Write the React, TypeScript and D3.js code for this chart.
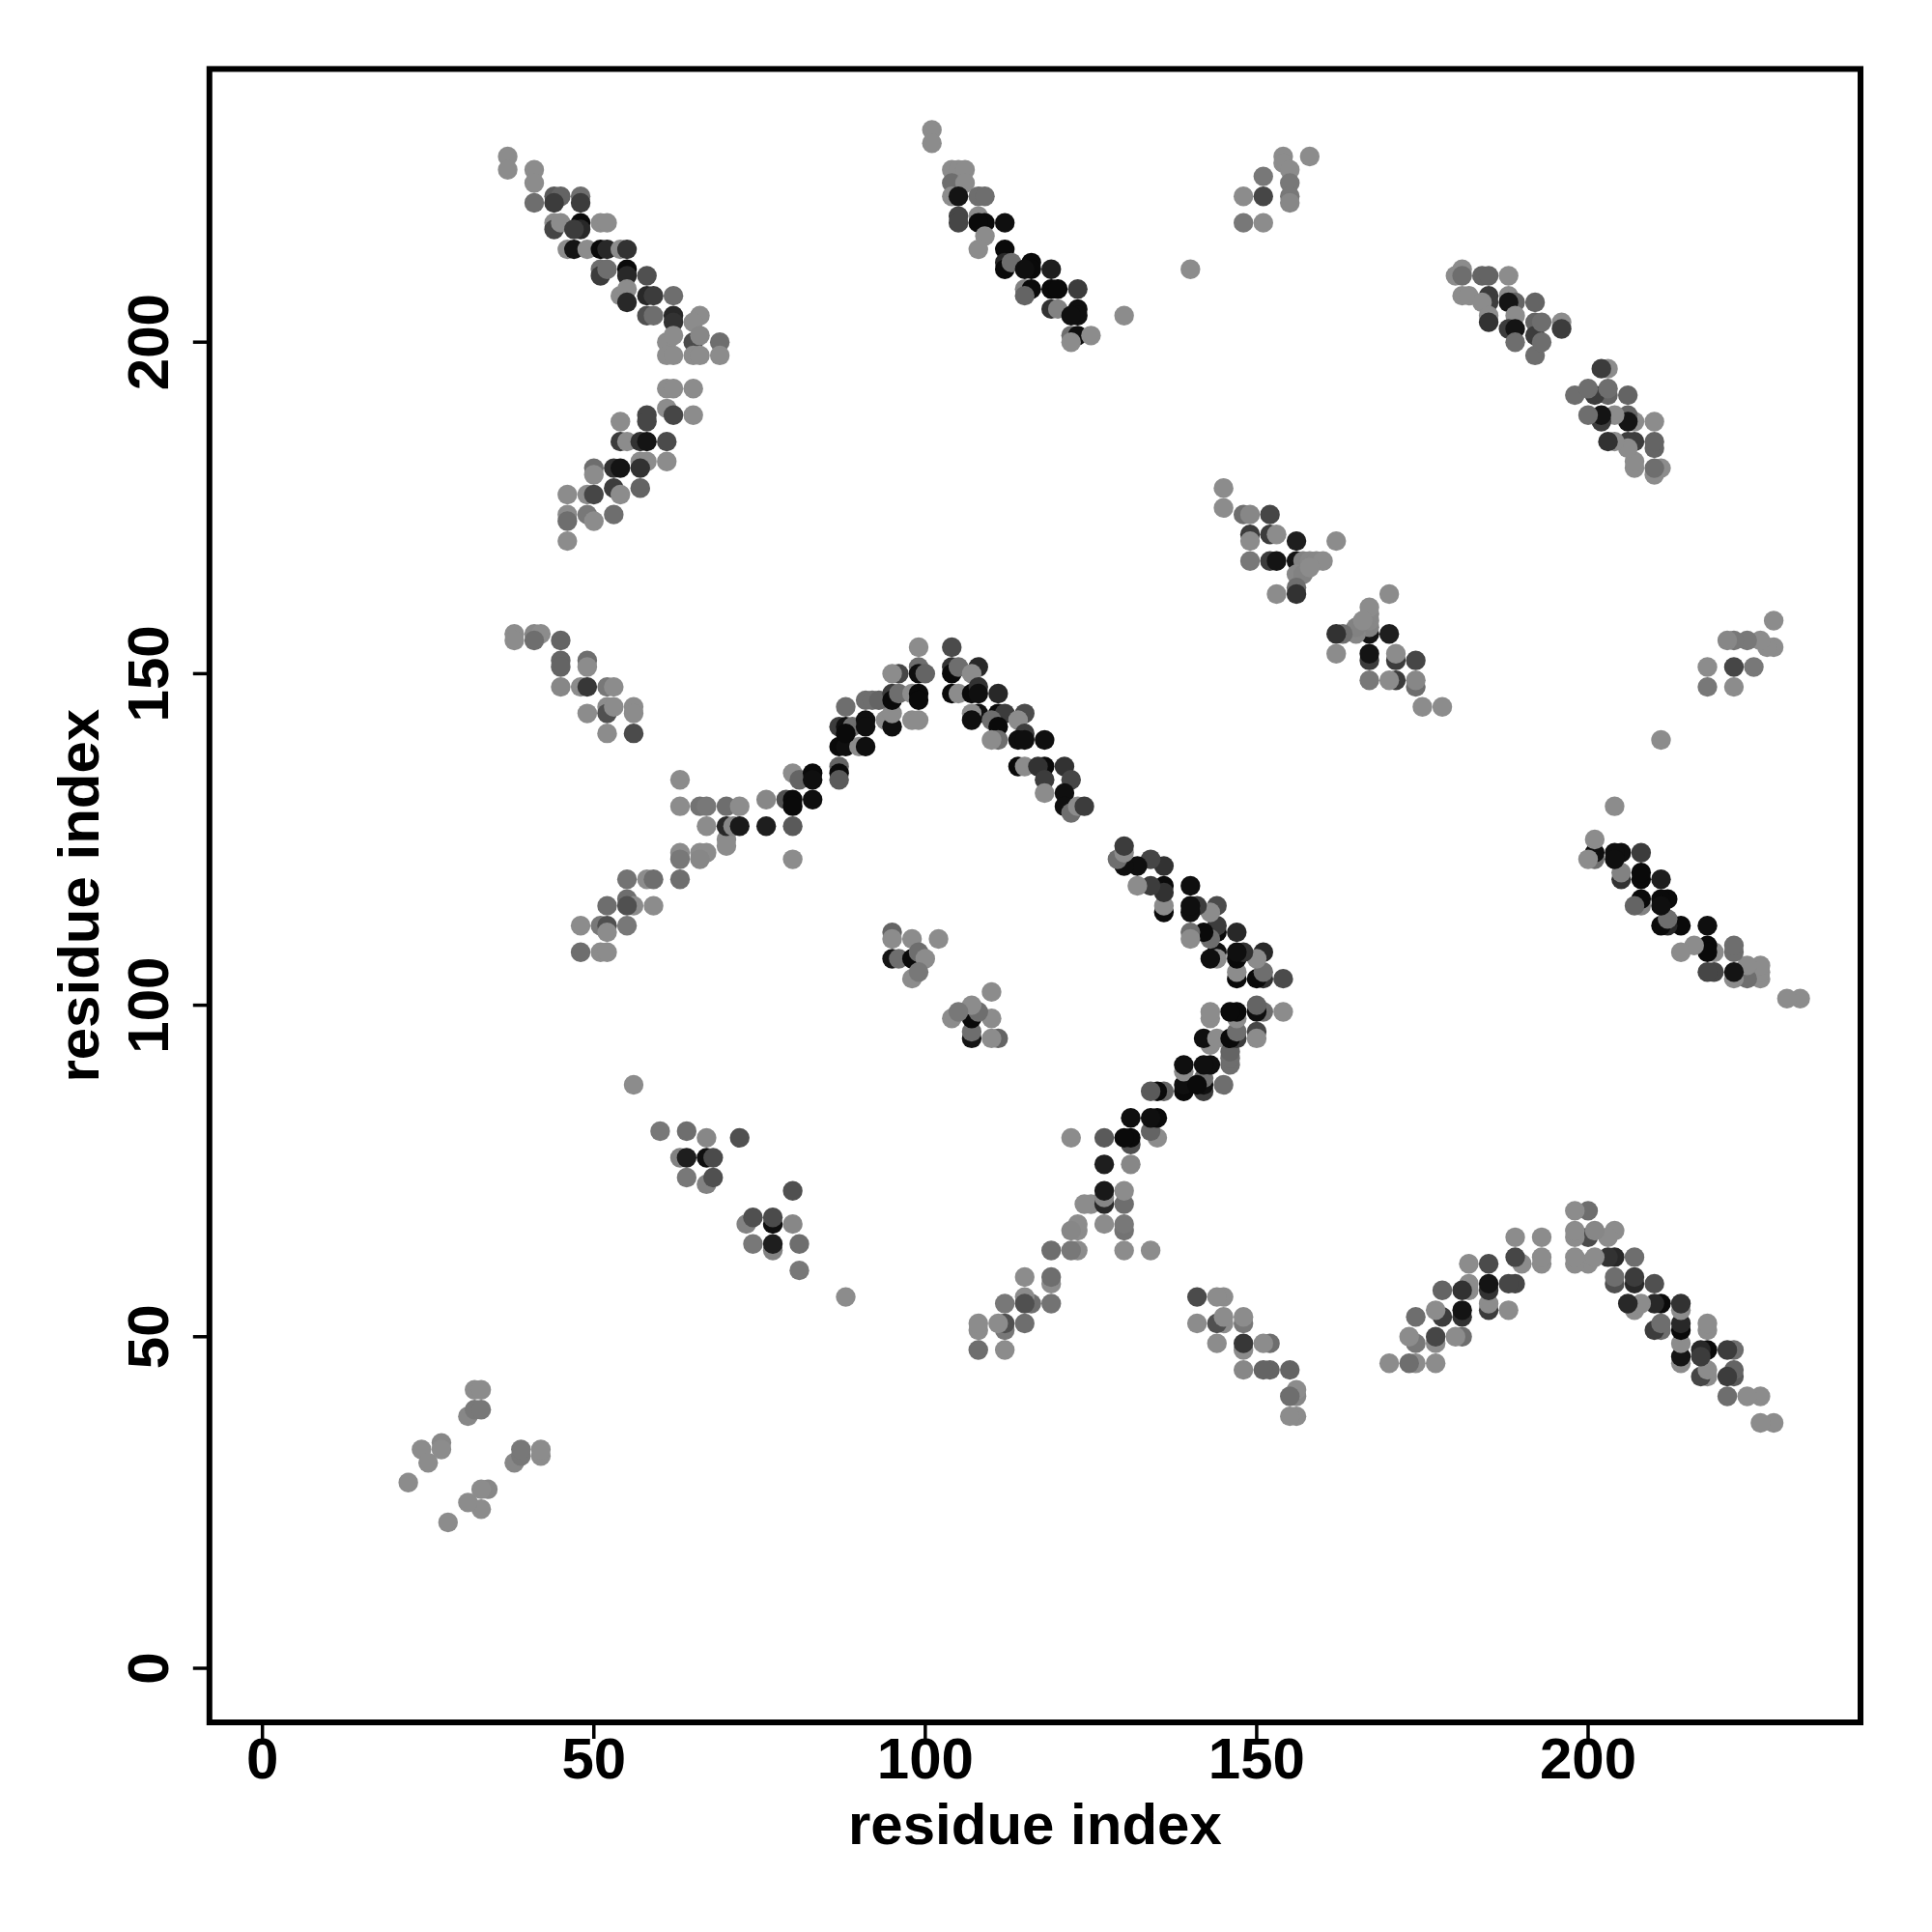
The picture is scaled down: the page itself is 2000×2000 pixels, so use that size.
import React from "react";
import * as d3 from "d3";

// Contacts [i, j, grey level] with j > i; the map is symmetric so each is drawn twice.
const smallHelix: [number, number, number][] = [
  [22,28,140],[24,33,140],[25,31,140],[27,34,135],[27,33,140],[31,38,135],[32,39,120],[33,39,120],[32,42,140],[33,42,140],
];
const hairpin60: [number, number, number][] = [
  [56,88,140],[60,81,120],[64,81,110],[67,80,135],[72,80,80],[63,77,130],[64,77,30],[67,77,15],[68,77,75],[64,74,120],[67,73,130],[68,74,80],
];
const block40x150: [number, number, number][] = [
  [38,156,140],[38,155,140],[41,156,135],[42,156,140],[41,155,110],[45,155,100],[45,152,100],[45,151,100],[49,152,110],[49,151,140],
  [45,148,135],[48,148,140],[49,148,55],[52,148,120],[53,148,140],[49,144,140],[52,145,140],[52,144,80],[53,145,140],[56,145,140],
  [56,144,140],[52,141,140],[56,141,75],
];
const lambdaUp: [number, number, number][] = [
  [48,108,110],[51,108,140],[52,108,140],[48,112,140],[51,112,120],[52,112,80],[52,111,140],[55,112,120],[52,115,110],[55,116,110],
  [56,115,140],[55,115,80],[59,115,140],[55,119,115],[58,119,140],[59,119,110],[63,119,110],[63,123,140],[63,122,120],[66,123,140],
  [67,123,140],[66,122,135],[70,125,140],[70,124,140],[63,130,140],[66,130,115],[67,130,120],[70,130,110],[72,130,140],[67,127,140],
  [70,127,40],[71,127,135],[72,127,25],[76,131,135],[76,127,30],[80,127,90],[80,122,140],[63,134,140],[79,131,80],[80,131,10],
  [80,130,10],[83,131,15],[80,135,140],[81,134,100],[83,135,10],[83,134,15],[87,136,100],[87,135,10],[87,134,90],
  [87,139,10],[88,139,15],[90,139,140],[91,139,15],[87,142,60],[88,142,15],[89,142,110],[88,141,10],[91,143,15],[91,142,15],
  [94,143,140],[95,142,15],[95,144,140],[98,143,140],[99,143,140],[88,145,110],[91,146,110],[92,146,110],[93,146,100],
  [95,147,60],[95,146,10],[96,147,110],[98,147,140],[99,147,10],[99,146,10],[96,150,70],[95,150,140],[99,151,110],[99,150,15],
  [100,150,100],[99,154,140],
];
const lambdaDown: [number, number, number][] = [
  [104,154,75],[104,151,50],[104,150,10],[105,151,110],[108,151,40],[107,150,140],[104,147,10],[105,147,140],[107,147,10],[108,148,50],
  [108,147,15],[111,147,40],[108,144,15],[107,144,140],[107,143,15],[111,144,10],[112,144,60],[110,143,110],[115,144,75],[114,143,140],
  [111,142,10],[111,140,110],[110,140,140],[115,141,60],[114,140,15],[115,140,15],[118,140,15],[114,136,10],[115,136,140],[118,136,10],
  [117,136,50],[118,134,60],[118,132,140],[121,136,50],[122,134,70],[121,132,15],[121,130,15],[122,129,110],[123,130,140],[124,130,60],
];
const nearDiag100: [number, number, number][] = [
  [95,111,100],[95,110,140],[98,110,140],[102,110,140],[95,107,20],[96,107,110],[98,107,10],[99,108,110],[100,107,140],[98,104,140],[99,105,120],
];
const block150x170: [number, number, number][] = [
  [145,178,140],[145,175,140],[148,174,110],[149,174,135],[152,174,70],[149,171,60],[149,170,140],[152,171,60],[153,171,140],[156,170,30],
  [162,170,140],[149,167,120],[152,167,60],[153,167,20],[156,167,20],[157,167,130],[158,167,135],[159,167,135],[160,167,140],[156,165,135],
  [157,165,130],[158,166,140],[156,163,110],[156,162,50],[153,162,140],
];
const block190x205: [number, number, number][] = [
  [180,210,140],[181,211,140],[181,210,110],[184,210,100],[185,210,100],[188,210,140],[181,207,140],[182,207,140],[185,207,60],[185,206,60],
  [184,206,140],[188,207,140],[189,206,100],[188,206,20],[192,206,100],[185,204,140],[185,203,50],[189,204,140],[188,202,60],[189,202,20],
  [192,203,100],[192,201,60],[193,203,110],[196,203,140],[196,202,60],[189,200,110],[192,198,110],[193,200,110],
];
const block110x210: [number, number, number][] = [
  [101,232,140],[101,230,140],[104,226,140],[105,226,140],[106,226,140],[104,224,110],[106,224,140],[104,222,140],[105,222,20],[108,222,110],
  [109,222,110],[105,219,70],[105,218,70],[108,219,140],[109,218,10],[108,218,10],[112,218,15],[109,216,140],[108,214,140],[112,214,10],
  [112,212,40],[112,211,10],[113,212,110],[116,212,10],[116,211,10],[115,211,15],[119,211,30],[115,208,130],[116,208,10],[115,207,100],
  [119,208,10],[120,208,10],[123,208,60],[119,205,50],[120,205,130],[123,205,15],[123,204,15],[122,204,15],[130,204,140],[122,201,110],
  [123,201,15],[125,201,140],[122,200,140],[140,211,140],
];
const block150x222: [number, number, number][] = [
  [154,228,140],[154,227,140],[158,228,140],[151,225,120],[155,226,140],[155,224,120],[148,222,140],[151,222,70],[155,222,120],[155,221,135],
  [148,218,120],[151,218,140],
];
const block50x200: [number, number, number][] = [
  [37,228,140],[37,226,140],[41,226,140],[41,224,140],[41,221,110],[44,222,90],[45,222,100],[48,222,110],[48,221,60],[44,221,60],
  [44,218,140],[44,217,70],[45,218,140],[48,218,10],[48,217,40],[47,217,60],[51,218,140],[52,218,140],[46,214,140],[47,214,20],
  [49,214,140],[51,214,10],[52,214,40],[54,214,140],[55,214,50],[51,211,110],[51,210,60],[52,211,110],[55,211,10],[55,210,40],
  [58,210,80],[54,207,140],[55,208,140],[55,206,40],[58,207,40],[59,207,60],[62,207,110],[58,204,80],[59,204,110],[62,204,40],
  [62,203,50],[66,204,140],[65,203,140],[61,200,140],[62,201,140],[65,200,75],[66,201,135],[69,200,110],[61,198,140],[62,198,140],
  [65,198,140],[66,198,140],[69,198,140],[61,193,140],[62,193,140],[65,193,140],[61,190,140],[58,189,70],[58,188,70],[62,189,70],
  [65,189,140],[54,188,140],[54,185,60],[55,185,140],[57,185,50],[58,185,20],[61,185,75],[57,182,140],[58,182,140],[61,182,140],
  [53,181,50],[54,181,20],[50,181,110],[50,180,140],[57,181,50],[57,178,100],[53,178,60],[54,177,140],[46,177,140],[49,177,140],
  [50,177,70],[53,174,110],[46,174,140],[46,173,110],[49,174,120],[50,173,140],[46,170,140],
];

const xTicks = [0, 50, 100, 150, 200];
const yTicks = [0, 50, 100, 150, 200];
const axisTitle = "residue index";

const upper = [
  ...smallHelix, ...hairpin60, ...block40x150, ...lambdaUp, ...lambdaDown, ...nearDiag100,
  ...block150x170, ...block190x205, ...block110x210, ...block150x222, ...block50x200,
];

export default function App() {
  const left = 216.8, right = 1926, top = 71.4, bottom = 1783;
  const x = d3.scaleLinear().domain([-8.0, 241.1]).range([left, right]);
  const y = d3.scaleLinear().domain([-8.16, 241.2]).range([bottom, top]);
  const font = "'Liberation Sans', Arial, Helvetica, sans-serif";
  const pts: { a: number; b: number; g: number }[] = [];
  upper.forEach(([i, j, g]) => pts.push({ a: i, b: j, g }));
  upper.forEach(([i, j, g]) => pts.push({ a: j, b: i, g }));
  return (
    <svg width={2000} height={2000} style={{ position: "absolute", left: 0, top: 0, background: "#fff" }}>
      <rect x={0} y={0} width={2000} height={2000} fill="#fff" />
      <g>
        {pts.map((p, k) => (
          <circle key={k} cx={x(p.a)} cy={y(p.b)} r={10.2} fill={d3.rgb(p.g, p.g, p.g).toString()} />
        ))}
      </g>
      <rect x={left} y={top} width={right - left} height={bottom - top} fill="none" stroke="#000" strokeWidth={6} />
      {xTicks.map((t) => (
        <g key={"x" + t}>
          <line x1={x(t)} x2={x(t)} y1={bottom} y2={bottom + 17} stroke="#000" strokeWidth={3.5} />
          <text x={x(t)} y={1841} textAnchor="middle" fontFamily={font} fontWeight="bold" fontSize={60}>{t}</text>
        </g>
      ))}
      {yTicks.map((t) => (
        <g key={"y" + t}>
          <line x1={left} x2={left - 17} y1={y(t)} y2={y(t)} stroke="#000" strokeWidth={3.5} />
          <text transform={`translate(174,${y(t)}) rotate(-90)`} textAnchor="middle" fontFamily={font} fontWeight="bold" fontSize={60}>{t}</text>
        </g>
      ))}
      <text x={(left + right) / 2} y={1909} textAnchor="middle" fontFamily={font} fontWeight="bold" fontSize={60}>{axisTitle}</text>
      <text transform={`translate(102,${(top + bottom) / 2}) rotate(-90)`} textAnchor="middle" fontFamily={font} fontWeight="bold" fontSize={60}>{axisTitle}</text>
    </svg>
  );
}
